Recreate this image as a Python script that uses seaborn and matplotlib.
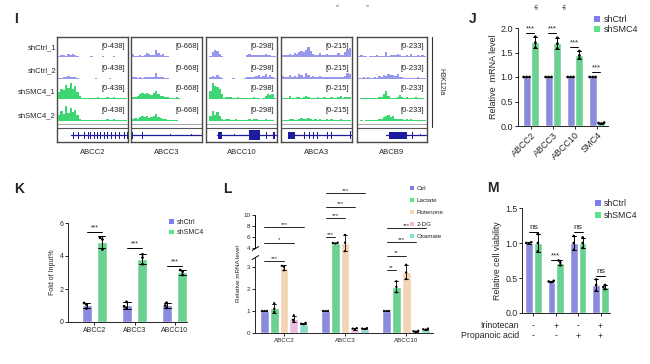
import numpy as np
import pandas as pd
import matplotlib
matplotlib.use("Agg")
import matplotlib.pyplot as plt
from matplotlib.patches import Patch, Rectangle
from matplotlib.lines import Line2D
import seaborn as sns

W, H = 650, 364

# ---------------- colours ----------------
CTRL = "#7d7deb"
SMC4 = "#5ae28c"
TRACK_CTRL = "#9797ee"
TRACK_SMC4 = "#3dd673"
GENE_NAVY = "#1c1c9c"

# ---------------- panel I: H3K12la tracks ----------------
track_genes = ["ABCC2", "ABCC3", "ABCC10", "ABCA3", "ABCB9"]
track_ranges = ["[0-438]", "[0-668]", "[0-298]", "[0-215]", "[0-233]"]
track_rows = ["shCtrl_1", "shCtrl_2", "shSMC4_1", "shSMC4_2"]

abcc2_tracks = [
    [0.05, 0.1, 0.15, 0.08, 0.18, 0.12, 0.2, 0.1, 0.06, 0.03, 0.02, 0.02, 0.03, 0.02, 0.04,
     0.02, 0.02, 0.03, 0.02, 0.05, 0.02, 0.03, 0.02, 0.02, 0.04, 0.02, 0.03, 0.02, 0.02, 0.03],
    [0.04, 0.08, 0.12, 0.1, 0.16, 0.1, 0.14, 0.12, 0.05, 0.03, 0.02, 0.03, 0.02, 0.02, 0.03,
     0.02, 0.05, 0.02, 0.02, 0.03, 0.02, 0.02, 0.04, 0.02, 0.02, 0.03, 0.02, 0.02, 0.03, 0.02],
    [0.45, 0.65, 0.55, 0.9, 0.7, 1.0, 0.6, 0.8, 0.45, 0.2, 0.05, 0.04, 0.06, 0.04, 0.05,
     0.08, 0.04, 0.1, 0.05, 0.04, 0.06, 0.12, 0.05, 0.04, 0.1, 0.05, 0.08, 0.04, 0.06, 0.05],
    [0.35, 0.6, 0.45, 0.95, 0.5, 0.8, 0.55, 0.7, 0.4, 0.15, 0.05, 0.04, 0.05, 0.06, 0.04,
     0.05, 0.04, 0.08, 0.05, 0.04, 0.05, 0.1, 0.04, 0.06, 0.12, 0.05, 0.06, 0.04, 0.05, 0.05],
]
abcc3_tracks = [
    [0.2, 0.05, 0.08, 0.15, 0.06, 0.1, 0.25, 0.2, 0.1, 0.15, 0.45, 0.25, 0.12, 0.2, 0.08,
     0.05, 0.03, 0.02, 0.02, 0.02, 0.02, 0.02, 0.02, 0.02, 0.02, 0.02, 0.02, 0.02, 0.02, 0.02],
    [0.15, 0.1, 0.08, 0.1, 0.08, 0.12, 0.1, 0.15, 0.12, 0.1, 0.35, 0.12, 0.1, 0.15, 0.06,
     0.04, 0.03, 0.02, 0.02, 0.02, 0.02, 0.02, 0.02, 0.02, 0.02, 0.02, 0.02, 0.02, 0.02, 0.02],
    [0.1, 0.15, 0.2, 0.3, 0.35, 0.3, 0.4, 0.3, 0.25, 0.35, 0.5, 0.3, 0.2, 0.2, 0.15,
     0.1, 0.05, 0.04, 0.05, 0.1, 0.04, 0.03, 0.03, 0.02, 0.02, 0.02, 0.02, 0.02, 0.02, 0.02],
    [0.15, 0.2, 0.15, 0.25, 0.3, 0.25, 0.3, 0.2, 0.25, 0.3, 0.45, 0.25, 0.2, 0.15, 0.1,
     0.08, 0.05, 0.04, 0.04, 0.08, 0.03, 0.03, 0.02, 0.02, 0.02, 0.02, 0.02, 0.02, 0.02, 0.02],
]
abcc10_tracks = [
    [0.02, 0.05, 0.3, 0.45, 0.4, 0.2, 0.05, 0.03, 0.02, 0.02, 0.02, 0.03, 0.02, 0.02, 0.02,
     0.03, 0.02, 0.1, 0.2, 0.15, 0.12, 0.1, 0.15, 0.1, 0.12, 0.2, 0.1, 0.12, 0.08, 0.05],
    [0.02, 0.1, 0.2, 0.15, 0.25, 0.1, 0.05, 0.02, 0.02, 0.02, 0.03, 0.05, 0.02, 0.02, 0.02,
     0.02, 0.05, 0.1, 0.15, 0.1, 0.15, 0.2, 0.25, 0.15, 0.2, 0.3, 0.15, 0.25, 0.1, 0.05],
    [0.02, 0.5, 1.0, 0.8, 0.75, 0.6, 0.3, 0.08, 0.1, 0.15, 0.1, 0.08, 0.05, 0.15, 0.05,
     0.04, 0.05, 0.04, 0.05, 0.08, 0.1, 0.05, 0.04, 0.03, 0.05, 0.2, 0.3, 0.25, 0.3, 0.05],
    [0.02, 0.3, 0.6, 0.4, 0.55, 0.3, 0.15, 0.05, 0.1, 0.12, 0.08, 0.05, 0.1, 0.04, 0.05,
     0.04, 0.05, 0.04, 0.12, 0.08, 0.1, 0.15, 0.05, 0.05, 0.08, 0.1, 0.05, 0.05, 0.04, 0.03],
]
abca3_tracks = [
    [0.1, 0.15, 0.1, 0.2, 0.12, 0.25, 0.2, 0.3, 0.35, 0.3, 0.45, 0.6, 0.35, 0.2, 0.1,
     0.15, 0.25, 0.1, 0.12, 0.2, 0.1, 0.15, 0.1, 0.12, 0.25, 0.1, 0.15, 0.3, 0.45, 0.55],
    [0.2, 0.15, 0.1, 0.25, 0.15, 0.2, 0.1, 0.3, 0.25, 0.15, 0.35, 0.25, 0.15, 0.2, 0.1,
     0.15, 0.2, 0.12, 0.1, 0.15, 0.12, 0.1, 0.15, 0.1, 0.12, 0.15, 0.1, 0.2, 0.35, 0.3],
    [0.05, 0.08, 0.05, 0.2, 0.08, 0.05, 0.1, 0.15, 0.05, 0.1, 0.2, 0.1, 0.05, 0.08, 0.05,
     0.12, 0.05, 0.06, 0.1, 0.05, 0.08, 0.15, 0.05, 0.06, 0.1, 0.2, 0.08, 0.12, 0.15, 0.1],
    [0.05, 0.08, 0.05, 0.1, 0.15, 0.08, 0.05, 0.12, 0.2, 0.1, 0.15, 0.18, 0.1, 0.08, 0.12,
     0.05, 0.1, 0.08, 0.05, 0.1, 0.06, 0.12, 0.05, 0.08, 0.05, 0.1, 0.06, 0.05, 0.08, 0.06],
]
abcb9_tracks = [
    [0.05, 0.15, 0.05, 0.08, 0.03, 0.05, 0.08, 0.04, 0.1, 0.05, 0.06, 0.05, 0.3, 0.08, 0.12,
     0.15, 0.1, 0.2, 0.12, 0.05, 0.08, 0.1, 0.05, 0.2, 0.08, 0.05, 0.1, 0.05, 0.15, 0.05],
    [0.05, 0.08, 0.1, 0.05, 0.15, 0.05, 0.08, 0.1, 0.05, 0.2, 0.15, 0.25, 0.2, 0.3, 0.22,
     0.25, 0.2, 0.3, 0.15, 0.1, 0.08, 0.05, 0.05, 0.04, 0.05, 0.05, 0.1, 0.05, 0.05, 0.05],
    [0.03, 0.05, 0.04, 0.05, 0.08, 0.05, 0.05, 0.08, 0.05, 0.1, 0.12, 0.3, 0.5, 0.2, 0.08,
     0.05, 0.05, 0.1, 0.25, 0.1, 0.05, 0.15, 0.05, 0.04, 0.05, 0.1, 0.05, 0.04, 0.05, 0.03],
    [0.03, 0.05, 0.03, 0.08, 0.05, 0.04, 0.05, 0.05, 0.04, 0.1, 0.15, 0.25, 0.3, 0.35, 0.25,
     0.3, 0.15, 0.1, 0.12, 0.15, 0.08, 0.12, 0.05, 0.1, 0.06, 0.05, 0.08, 0.04, 0.05, 0.04],
]
all_tracks = [abcc2_tracks, abcc3_tracks, abcc10_tracks, abca3_tracks, abcb9_tracks]

# gene models: intron line span and exon blocks (start, end, height in px), as box fractions
gene_lines = [(0.2, 1.0), (0.0, 1.0), (0.15, 0.98), (0.1, 1.0), (0.42, 0.98)]
gene_exons = [
    [(s, s + 0.014, 7) for s in [0.23, 0.3, 0.38, 0.43, 0.47, 0.52, 0.57, 0.61, 0.66,
                                 0.71, 0.76, 0.81, 0.88, 0.94, 0.985]],
    [(0.02, 0.035, 7), (0.15, 0.165, 7), (0.55, 0.56, 2), (0.85, 0.86, 2)],
    [(0.17, 0.23, 7), (0.4, 0.41, 2), (0.6, 0.76, 10), (0.85, 0.865, 7), (0.95, 0.965, 7)],
    [(0.1, 0.2, 7), (0.32, 0.335, 7), (0.39, 0.405, 7), (0.45, 0.465, 7), (0.51, 0.525, 7),
     (0.65, 0.665, 7), (0.71, 0.725, 7), (0.97, 0.99, 8)],
    [(0.45, 0.72, 7), (0.78, 0.795, 7), (0.9, 0.91, 2)],
]

# ---------------- panel J ----------------
j_genes = ["ABCC2", "ABCC3", "ABCC10", "SMC4"]
groups = ["shCtrl", "shSMC4"]
j_ctrl = [[1.0, 1.0, 1.0], [1.0, 1.0, 1.0], [1.0, 1.0, 1.0], [1.0, 1.0, 1.0]]
j_smc4 = [[1.60, 1.70, 1.82], [1.58, 1.68, 1.80], [1.38, 1.44, 1.53], [0.05, 0.06, 0.07]]
j_sig_y = [1.9, 1.9, 1.62, 1.11]

# ---------------- panel K ----------------
k_genes = ["ABCC2", "ABCC3", "ABCC10"]
k_ctrl = [[0.82, 1.05, 1.15], [0.85, 0.95, 1.22], [0.85, 1.0, 1.17]]
k_smc4 = [[4.4, 5.0, 5.1], [3.5, 3.9, 4.1], [2.85, 3.05, 3.15]]
k_sig_y = [5.45, 4.48, 3.4]

# ---------------- panel L ----------------
l_genes = ["ABCC2", "ABCC3", "ABCC10"]
treatments = ["Ctrl", "Lactate", "Rotenone", "2-DG", "Oxamate"]
l_values = {
    "Ctrl": [[1.0, 1.0, 1.0], [1.0, 1.0, 1.0], [1.0, 1.0, 1.0]],
    "Lactate": [[0.95, 1.1, 1.35], [4.75, 4.85, 4.9], [1.85, 2.1, 2.35]],
    "Rotenone": [[2.85, 3.0, 3.05], [3.8, 4.9, 6.3], [2.45, 2.75, 3.1]],
    "2-DG": [[0.5, 0.6, 0.8], [0.15, 0.2, 0.22], [0.06, 0.08, 0.1]],
    "Oxamate": [[0.4, 0.42, 0.46], [0.18, 0.2, 0.22], [0.15, 0.17, 0.2]],
}
# (gene index, treatment index, height, label)
l_sig = [(0, 2, 3.27, "***"), (0, 3, 4.89, "*"), (0, 4, 7.69, "***"),
         (1, 1, 5.88, "***"), (1, 2, 9.33, "***"), (1, 3, 11.45, "***"), (1, 4, 13.88, "***"),
         (2, 1, 2.86, "**"), (2, 2, 3.54, "**"), (2, 3, 5.0, "***"), (2, 4, 7.56, "***")]
l_ticks = [0, 1, 2, 3, 4, 6, 8, 10]

# ---------------- panel M ----------------
m_conditions = ["c1", "c2", "c3", "c4"]
m_ctrl = [[0.99, 1.0, 1.01], [0.44, 0.45, 0.46], [0.9, 1.0, 1.1], [0.32, 0.4, 0.48]]
m_smc4 = [[0.88, 1.0, 1.13], [0.68, 0.72, 0.75], [0.93, 1.0, 1.08], [0.34, 0.37, 0.40]]
m_sig = ["ns", "***", "ns", "ns"]
m_sig_y = [1.16, 0.76, 1.16, 0.53]
irinotecan = ["-", "+", "-", "+"]
propanoic = ["-", "-", "+", "+"]


def px_axes(fig, x0, y0, x1, y1, **kw):
    return fig.add_axes([x0 / W, 1 - y1 / H, (x1 - x0) / W, (y1 - y0) / H], **kw)


def long_df(names, series):
    rows = []
    for grp, vals in series.items():
        for name, reps in zip(names, vals):
            for v in reps:
                rows.append({"x": name, "group": grp, "value": v})
    return pd.DataFrame(rows)


def bars_with_dots(ax, df, order, hue_order, palette, width, gap, dot_size, err_lw=0.7):
    sns.barplot(data=df, x="x", y="value", hue="group", order=order, hue_order=hue_order,
                palette=palette, errorbar="sd", capsize=0.35, width=width, gap=gap,
                err_kws={"color": "black", "linewidth": err_lw}, legend=False, ax=ax)
    sns.swarmplot(data=df, x="x", y="value", hue="group", order=order, hue_order=hue_order,
                  palette={g: "black" for g in hue_order}, dodge=True, size=dot_size,
                  legend=False, ax=ax, warn_thresh=1)


def add_sig(ax, x1, x2, y, label, fs, lw=0.7):
    ax.plot([x1, x2], [y, y], color="black", lw=lw, clip_on=False)
    ax.annotate(label, ((x1 + x2) / 2, y), xytext=(0, 0.3), textcoords="offset points",
                ha="center", va="bottom", fontsize=fs, annotation_clip=False)


def square_legend(fig, ax, labels, colors, x, y, fs, spacing):
    handles = [Patch(facecolor=c, edgecolor="none") for c in colors]
    ax.legend(handles, labels, loc="upper left", bbox_to_anchor=(x / W, 1 - y / H),
              bbox_transform=fig.transFigure, frameon=False, fontsize=fs,
              handlelength=0.7, handleheight=0.7, handletextpad=0.35,
              borderaxespad=0, borderpad=0, labelspacing=spacing)


def style_axes(ax, fs):
    sns.despine(ax=ax)
    ax.tick_params(labelsize=fs, length=2.2, width=0.7, pad=1.2)
    for s in ["left", "bottom"]:
        ax.spines[s].set_linewidth(0.7)
    ax.set_xlabel("")


def plot_tracks(fig):
    box_x = [(57, 128), (131, 202), (206, 277), (281, 352), (357, 427)]
    top, bottom = 37, 142
    bases = [57, 79, 99, 121]
    for gi, (x0, x1) in enumerate(box_x):
        frame = px_axes(fig, x0, top, x1, bottom)
        frame.set_xlim(0, 1)
        frame.set_ylim(bottom - top, 0)
        frame.set_xticks([])
        frame.set_yticks([])
        for sp in frame.spines.values():
            sp.set_linewidth(1.0)
            sp.set_color("#4a4a4a")
        frame.axhline(87, color="#999999", lw=0.6)
        frame.axhline(91, color="#555555", lw=0.8)
        # gene model
        gy = 98
        frame.plot(gene_lines[gi], [gy, gy], color=GENE_NAVY, lw=0.9)
        for s, e, h in gene_exons[gi]:
            frame.add_patch(Rectangle((s, gy - h / 2), e - s, h, color=GENE_NAVY, lw=0))
        for ri, base in enumerate(bases):
            prof = np.array(all_tracks[gi][ri])
            color = TRACK_CTRL if ri < 2 else TRACK_SMC4
            tax = px_axes(fig, x0 + 1, base - 16, x1 - 1, base)
            tax.set_xlim(0, len(prof))
            tax.set_ylim(0, 1)
            tax.axis("off")
            xs = np.arange(len(prof) + 1)
            tax.fill_between(xs, np.append(prof, prof[-1]), step="post", color=color, lw=0)
            tax.axhline(0.02, color=color, lw=0.5)
            frame.text(0.96, base - top - 10, track_ranges[gi], ha="right", va="center",
                       fontsize=5.5, color="#222222")
        fig.text((x0 + x1) / 2 / W, 1 - 152 / H, track_genes[gi], ha="center", va="center",
                 fontsize=5.5)
    for label, y in zip(track_rows, [48, 71, 92, 116]):
        fig.text(56 / W, 1 - y / H, label, ha="right", va="center", fontsize=5.5)
    fig.add_artist(Line2D([432 / W, 432 / W], [1 - 37 / H, 1 - 127 / H], color="#333333",
                          lw=0.8, transform=fig.transFigure))
    fig.text(441 / W, 1 - 82 / H, "H3K12la", rotation=-90, ha="center", va="center",
             fontsize=5)


def plot_j(fig):
    ax = px_axes(fig, 518, 28, 608, 126)
    df = long_df(j_genes, {"shCtrl": j_ctrl, "shSMC4": j_smc4})
    bars_with_dots(ax, df, j_genes, groups, {"shCtrl": CTRL, "shSMC4": SMC4}, 0.8, 0.1, 2.0)
    ax.set_ylim(0, 2)
    ax.set_xlim(-0.59, 3.5)
    ax.set_yticks([0, 0.5, 1.0, 1.5, 2.0])
    ax.set_yticklabels(["0.0", "0.5", "1.0", "1.5", "2.0"])
    style_axes(ax, 6.5)
    ax.set_xticks(range(len(j_genes)))
    ax.set_xticklabels(j_genes, rotation=45, ha="right", rotation_mode="anchor")
    ax.set_ylabel("Relative  mRNA level", fontsize=6.5, labelpad=2)
    for i, y in enumerate(j_sig_y):
        add_sig(ax, i - 0.22, i + 0.15, y, "***", 5.5)
    square_legend(fig, ax, groups, [CTRL, SMC4], 594, 15, 6.5, 0.15)


def plot_k(fig):
    ax = px_axes(fig, 68, 223, 187, 322)
    df = long_df(k_genes, {"shCtrl": k_ctrl, "shSMC4": k_smc4})
    bars_with_dots(ax, df, k_genes, groups, {"shCtrl": CTRL, "shSMC4": SMC4}, 0.75, 0.35, 2.0)
    ax.set_ylim(0, 6)
    ax.set_xlim(-0.66, 2.31)
    ax.set_yticks([0, 2, 4, 6])
    style_axes(ax, 5)
    ax.set_ylabel("Fold of Input%", fontsize=5, labelpad=2)
    for i, y in enumerate(k_sig_y):
        add_sig(ax, i - 0.19, i + 0.19, y, "***", 5)
    square_legend(fig, ax, groups, [CTRL, SMC4], 169, 219, 5, 0.5)


def l_forward(y):
    y = np.asarray(y, dtype=float)
    return np.where(y <= 3.4, y, np.where(y < 4, 3.4 + (y - 3.4) * 0.8, 3.88 + (y - 4) * 0.25))


def l_inverse(t):
    t = np.asarray(t, dtype=float)
    return np.where(t <= 3.4, t, np.where(t < 3.88, 3.4 + (t - 3.4) / 0.8, 4 + (t - 3.88) / 0.25))


def plot_l(fig):
    l_colors = {"Ctrl": CTRL, "Lactate": SMC4, "Rotenone": "#fcd4aa",
                "2-DG": "#f5b4e1", "Oxamate": "#7fe6d3"}
    ax = px_axes(fig, 255, 214.6, 433, 333)
    ax.set_yscale("function", functions=(l_forward, l_inverse))
    df = long_df(l_genes, l_values)
    bars_with_dots(ax, df, l_genes, treatments, l_colors, 0.8, 0.1, 1.7, err_lw=0.6)
    ax.set_ylim(0, 10)
    ax.set_xlim(-0.475, 2.44)
    ax.set_yticks(l_ticks)
    ax.set_yticklabels([str(t) for t in l_ticks])
    ax.yaxis.set_minor_locator(matplotlib.ticker.NullLocator())
    style_axes(ax, 4.5)
    ax.set_ylabel("Relative mRNA level", fontsize=4.5, labelpad=2)
    # broken y axis
    ax.spines["left"].set_bounds(0, 3.4)
    ytr = ax.get_yaxis_transform()
    ax.plot([0, 0], [4, 10], color="black", lw=0.7, transform=ytr, clip_on=False)
    ax.plot([0, 0], [3.45, 3.95], transform=ytr, ls="none", marker=[(-1, -0.6), (1, 0.6)],
            markersize=5, color="black", mew=0.7, clip_on=False)
    slot = 0.8 / len(treatments)
    for gi, ti, y, label in l_sig:
        x_ctrl = gi - 0.4 + slot / 2
        x_t = gi - 0.4 + slot * (ti + 0.5)
        add_sig(ax, x_ctrl, x_t, y, label, 4.3, lw=0.6)
    square_legend(fig, ax, treatments, [l_colors[t] for t in treatments], 410, 186, 4.5, 1.05)


def plot_m(fig):
    ax = px_axes(fig, 522, 208, 610, 313)
    df = long_df(m_conditions, {"shCtrl": m_ctrl, "shSMC4": m_smc4})
    bars_with_dots(ax, df, m_conditions, groups, {"shCtrl": CTRL, "shSMC4": SMC4}, 0.8, 0.15, 1.9)
    ax.set_ylim(0, 1.5)
    ax.set_xlim(-0.51, 3.42)
    ax.set_yticks([0, 0.5, 1.0, 1.5])
    ax.set_yticklabels(["0.0", "0.5", "1.0", "1.5"])
    style_axes(ax, 6.3)
    ax.set_xticks(range(len(m_conditions)))
    ax.set_xticklabels([])
    ax.set_ylabel("Relative cell viability", fontsize=6.3, labelpad=2)
    for i, (lab, y) in enumerate(zip(m_sig, m_sig_y)):
        add_sig(ax, i - 0.2, i + 0.2, y, lab, 6 if lab == "ns" else 5.5)
    xtr = ax.get_xaxis_transform()
    for i, (a, b) in enumerate(zip(irinotecan, propanoic)):
        ax.text(i, -0.125, a, transform=xtr, ha="center", va="center", fontsize=6.3)
        ax.text(i, -0.22, b, transform=xtr, ha="center", va="center", fontsize=6.3)
    fig.text(519 / W, 1 - 326 / H, "Irinotecan", ha="right", va="center", fontsize=6.3)
    fig.text(519 / W, 1 - 336 / H, "Propanoic acid", ha="right", va="center", fontsize=6.3)
    square_legend(fig, ax, groups, [CTRL, SMC4], 595, 199, 6.3, 0.35)


def main():
    sns.set_style("ticks")
    plt.rcParams["font.family"] = ["Liberation Sans", "DejaVu Sans"]
    plt.rcParams["axes.linewidth"] = 0.7

    fig = plt.figure(figsize=(W / 100, H / 100), dpi=100)
    fig.patch.set_facecolor("white")

    plot_tracks(fig)
    plot_j(fig)
    plot_k(fig)
    plot_l(fig)
    plot_m(fig)

    # panel letters
    for letter, x, y in [("I", 16, 19), ("J", 473, 19), ("K", 19, 189), ("L", 227, 189),
                         ("M", 493, 188)]:
        fig.text(x / W, 1 - y / H, letter, fontsize=10, fontweight="bold", ha="center",
                 va="center")

    # short sample-label fragments from the panel above, kept inside the frame
    for x, lab in [(537, "sh"), (565, "sh")]:
        fig.text(x / W, 1 - 9 / H, lab, rotation=90, ha="center", va="bottom", fontsize=4.5,
                 color="#444444")
    for x in [338, 368]:
        fig.text(x / W, 1 - 6 / H, "s", rotation=90, ha="center", va="bottom", fontsize=3.5,
                 color="#666666")

    fig.savefig("out.png", dpi=100)
    plt.close(fig)


if __name__ == "__main__":
    main()
